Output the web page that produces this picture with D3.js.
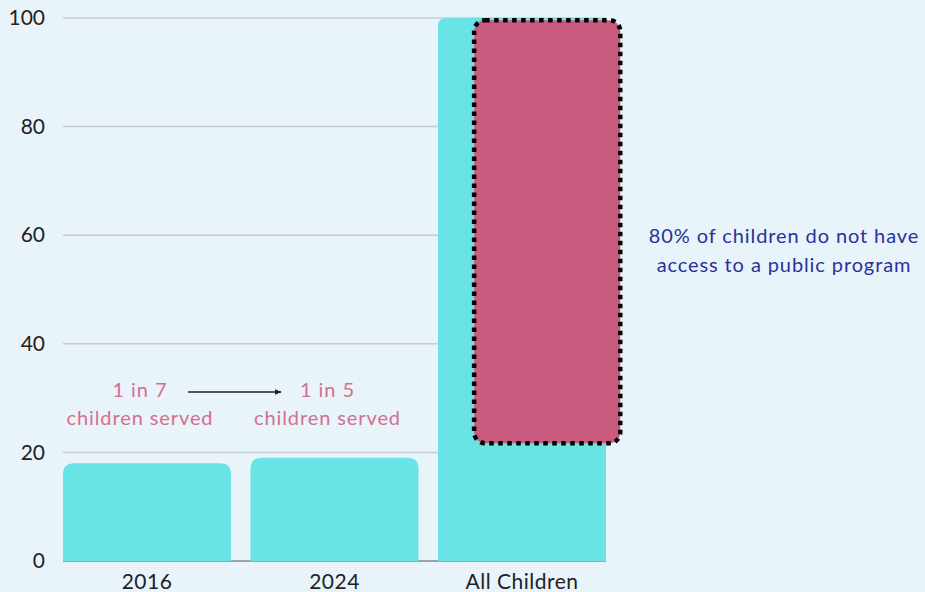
<!DOCTYPE html>
<html>
<head>
<meta charset="utf-8">
<script src="https://cdn.jsdelivr.net/npm/d3@7"></script>
<style>
  html, body { margin: 0; padding: 0; background: #e9f3fa; }
  svg { display: block; font-family: Lato, "Noto Sans", sans-serif; }
</style>
</head>
<body>
<div id="chart"></div>
<script>
// chart values
let categories = ["2016", "2024", "All Children"]
let values = [18, 19, 100]
let yTicks = [0, 20, 40, 60, 80, 100]
let unservedRange = [21.7, 99.6]   // the dotted box on "All Children"
let servedLabels = [["1 in 7", "children served"], ["1 in 5", "children served"]]
let noteLines = ["80% of children do not have", "access to a public program"]

const width = 925, height = 592
const margin = {top: 18, right: 319, bottom: 31, left: 63}

const svg = d3.select("#chart").append("svg")
    .attr("width", width)
    .attr("height", height)

svg.append("defs").append("marker")
    .attr("id", "arrow")
    .attr("viewBox", "0 0 10 10")
    .attr("refX", 9).attr("refY", 5)
    .attr("markerWidth", 4.5).attr("markerHeight", 4.5)
    .attr("orient", "auto")
  .append("path")
    .attr("d", "M0,1 L10,5 L0,9 z")
    .attr("fill", "#222")

const x = d3.scaleBand()
    .domain(categories)
    .range([margin.left, width - margin.right])
    .paddingInner(0.104)
    .paddingOuter(0)

const y = d3.scaleLinear()
    .domain([0, 100])
    .range([height - margin.bottom, margin.top])

// gridlines
svg.append("g")
    .selectAll("line")
    .data(yTicks.filter(d => d > 0))
    .enter().append("line")
      .attr("x1", margin.left)
      .attr("x2", width - margin.right)
      .attr("y1", d => y(d))
      .attr("y2", d => y(d))
      .attr("stroke", "#c6ccd3")
      .attr("stroke-width", 1.5)

// baseline
svg.append("line")
    .attr("x1", margin.left)
    .attr("x2", width - margin.right)
    .attr("y1", y(0))
    .attr("y2", y(0))
    .attr("stroke", "#9ea3a8")
    .attr("stroke-width", 2)

// y axis labels
const yAxis = svg.append("g")
    .attr("transform", "translate(" + (margin.left - 18) + ",0)")
    .call(d3.axisLeft(y).tickValues(yTicks).tickSize(0).tickPadding(0))
yAxis.select(".domain").remove()
yAxis.selectAll("text")
    .attr("font-family", "Lato, 'Noto Sans', sans-serif")
    .attr("font-size", 21)
    .attr("fill", "#222")

// x axis labels
const xAxis = svg.append("g")
    .attr("transform", "translate(0," + y(0) + ")")
    .call(d3.axisBottom(x).tickSize(0).tickPadding(13))
xAxis.select(".domain").remove()
xAxis.selectAll("text")
    .attr("font-family", "Lato, 'Noto Sans', sans-serif")
    .attr("font-size", 21)
    .attr("letter-spacing", 0.5)
    .attr("fill", "#222")

// bars with rounded tops
function topRounded(x0, y0, w, h, r) {
    r = Math.min(r, h, w / 2)
    return "M" + x0 + "," + (y0 + h) +
        "V" + (y0 + r) +
        "Q" + x0 + "," + y0 + " " + (x0 + r) + "," + y0 +
        "H" + (x0 + w - r) +
        "Q" + (x0 + w) + "," + y0 + " " + (x0 + w) + "," + (y0 + r) +
        "V" + (y0 + h) + "Z"
}

svg.append("g")
    .selectAll("path")
    .data(categories.map((c, i) => ({cat: c, value: values[i]})))
    .enter().append("path")
      .attr("d", d => topRounded(x(d.cat), y(d.value), x.bandwidth(), y(0) - y(d.value), d.value < 50 ? 11 : 8))
      .attr("fill", "#69e3e6")

// dotted box
const bw = x.bandwidth()
svg.append("rect")
    .attr("x", x("All Children") + bw * 0.215)
    .attr("y", y(unservedRange[1]))
    .attr("width", bw * 0.87)
    .attr("height", y(unservedRange[0]) - y(unservedRange[1]))
    .attr("rx", 11)
    .attr("fill", "#c95c7e")
    .attr("stroke", "#000")
    .attr("stroke-width", 4.5)
    .attr("stroke-dasharray", "4.5 4.5")

// served labels
const labelG = svg.append("g")
servedLabels.forEach(function(lines, i) {
    let cx = x(categories[i]) + bw / 2 - 7
    lines.forEach(function(line, j) {
        labelG.append("text")
            .attr("x", cx)
            .attr("y", 397 + j * 28)
            .attr("text-anchor", "middle")
            .attr("font-size", 20)
            .attr("letter-spacing", 0.9)
            .attr("fill", "#d2708f")
            .text(line)
    })
})

// arrow
svg.append("line")
    .attr("x1", 188)
    .attr("x2", 281)
    .attr("y1", 392)
    .attr("y2", 392)
    .attr("stroke", "#222")
    .attr("stroke-width", 1.5)
    .attr("marker-end", "url(#arrow)")

// note on the right
noteLines.forEach(function(line, j) {
    svg.append("text")
        .attr("x", 784)
        .attr("y", 243 + j * 29)
        .attr("text-anchor", "middle")
        .attr("font-size", 20)
        .attr("letter-spacing", 0.9)
        .attr("fill", "#28329a")
        .text(line)
})
</script>
</body>
</html>
